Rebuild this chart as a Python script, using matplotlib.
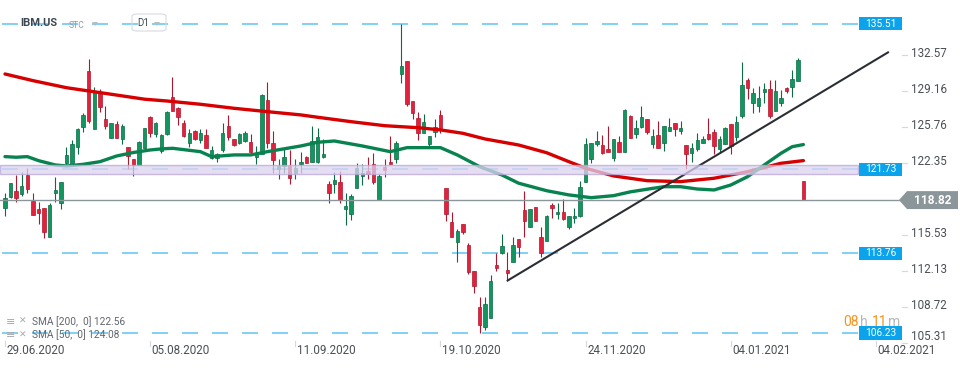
import matplotlib
matplotlib.use("Agg")
import matplotlib.pyplot as plt
import matplotlib.transforms as mtransforms
from matplotlib.patches import Rectangle, Polygon, FancyBboxPatch
import numpy as np

plt.rcParams['font.family'] = ['Roboto', 'DejaVu Sans']
plt.rcParams['lines.scale_dashes'] = False

# ─── Datos: IBM.US diario (velas) ────────────────────────────────────────────
opens = [118.05, 119.15, 119.72, 119.41, 121.21, 118.74, 117.95, 118.05, 115.30, 119.47,
         118.52, 122.37, 122.15, 123.89, 125.79, 131.06, 125.53, 129.10, 126.48, 124.68,
         126.04, 124.59, 123.89, 122.69, 122.15, 123.80, 126.67, 125.06, 123.48, 125.09,
         128.56, 127.58, 126.16, 124.20, 125.37, 124.52, 124.99, 122.85, 122.85, 123.57,
         125.85, 124.58, 124.20, 124.46, 124.36, 122.94, 123.16, 128.31, 124.20, 121.77,
         122.06, 122.06, 121.36, 122.21, 122.88, 122.47, 122.47, 122.94, 120.35, 120.31,
         120.50, 117.95, 117.50, 120.00, 121.14, 121.61, 122.21, 118.83, 121.93, 122.46,
         122.68, 130.74, 132.00, 128.21, 126.57, 125.15, 124.11, 125.31, 126.88, 119.94,
         116.71, 114.88, 116.52, 114.57, 112.13, 108.72, 106.83, 107.69, 112.68, 113.85,
         112.20, 112.93, 115.11, 117.89, 116.25, 118.21, 115.36, 114.98, 118.36, 117.48,
         117.67, 116.31, 117.10, 117.35, 120.51, 122.69, 124.11, 124.05, 123.64, 122.79,
         124.30, 123.35, 126.80, 125.06, 125.79, 126.51, 124.11, 125.00, 124.21, 125.41,
         126.10, 125.41, 124.05, 123.26, 123.67, 124.27, 125.09, 125.31, 123.67, 124.14,
         126.04, 124.84, 126.83, 130.21, 128.06, 127.78, 129.10, 129.35, 127.30, 128.00,
         129.42, 129.58, 130.14, 120.63]
highs = [119.47, 120.48, 121.21, 121.46, 121.84, 119.47, 118.62, 118.05, 118.52, 121.05,
         120.51, 123.89, 124.52, 125.63, 127.11, 132.20, 129.51, 129.32, 127.74, 126.16,
         126.32, 126.04, 123.89, 122.69, 124.46, 125.63, 126.80, 126.26, 125.09, 127.30,
         130.52, 127.68, 126.42, 125.53, 125.47, 125.53, 125.53, 123.95, 123.32, 126.16,
         126.89, 124.58, 125.21, 125.40, 125.09, 123.95, 128.85, 130.05, 125.37, 122.72,
         123.73, 123.57, 122.72, 123.35, 123.00, 125.85, 125.63, 124.60, 120.63, 121.52,
         121.58, 119.46, 119.40, 122.30, 122.21, 122.87, 123.25, 121.26, 122.72, 124.89,
         124.42, 135.51, 132.00, 128.21, 127.14, 126.98, 124.89, 126.51, 127.36, 119.94,
         117.66, 116.05, 116.52, 114.72, 112.13, 109.61, 109.61, 111.73, 113.78, 115.62,
         113.88, 115.36, 115.11, 119.69, 117.95, 118.21, 116.31, 117.42, 118.58, 118.52,
         118.93, 117.35, 118.05, 120.64, 124.68, 124.27, 125.38, 125.00, 125.85, 124.59,
         124.90, 127.46, 126.89, 126.42, 127.74, 126.51, 125.56, 126.32, 125.85, 126.58,
         126.10, 126.32, 124.05, 124.21, 125.15, 124.90, 126.58, 125.53, 124.90, 125.79,
         126.04, 126.80, 131.88, 130.43, 129.48, 129.64, 129.89, 130.21, 130.21, 129.26,
         129.58, 131.16, 132.32, 120.63]
lows = [117.35, 119.06, 118.68, 119.25, 119.53, 117.38, 116.53, 115.27, 115.30, 118.68,
        118.02, 122.15, 122.15, 123.16, 125.25, 126.16, 125.53, 127.21, 125.60, 124.68,
        124.68, 124.11, 121.77, 121.14, 122.15, 123.67, 124.77, 124.84, 123.32, 124.99,
        127.30, 125.94, 124.84, 123.89, 124.52, 124.20, 123.73, 122.72, 122.47, 123.41,
        124.52, 123.95, 124.14, 124.36, 123.26, 122.21, 123.16, 123.73, 121.36, 120.79,
        121.36, 120.32, 120.79, 121.36, 122.31, 122.47, 122.31, 122.85, 118.58, 119.46,
        118.51, 116.46, 116.94, 120.00, 120.25, 120.82, 120.35, 118.83, 121.04, 122.21,
        122.37, 129.89, 127.77, 126.51, 124.52, 125.15, 123.88, 124.77, 125.21, 116.87,
        115.29, 112.99, 115.58, 111.82, 110.05, 106.23, 106.51, 107.69, 112.14, 113.69,
        111.16, 112.93, 113.47, 115.30, 116.25, 116.85, 113.47, 114.98, 117.16, 117.04,
        116.94, 116.06, 116.69, 117.26, 120.51, 122.37, 123.95, 123.16, 123.42, 122.56,
        123.42, 123.35, 124.68, 124.68, 125.63, 125.06, 123.73, 123.80, 123.51, 125.41,
        124.90, 125.06, 121.77, 122.47, 123.51, 124.27, 124.52, 123.19, 123.26, 124.14,
        123.16, 124.46, 126.58, 128.38, 127.05, 127.21, 128.00, 126.58, 127.30, 127.74,
        129.01, 128.63, 130.14, 118.82]
closes = [118.99, 120.42, 119.06, 120.16, 119.85, 117.38, 117.64, 115.77, 118.36, 119.78,
          120.51, 123.10, 124.11, 125.56, 126.86, 126.32, 129.10, 127.62, 125.88, 126.10,
          124.68, 125.85, 123.01, 122.15, 124.30, 125.63, 125.15, 126.10, 125.00, 127.20,
          127.30, 126.73, 124.90, 125.21, 124.61, 125.15, 123.79, 123.57, 123.16, 125.21,
          124.84, 124.05, 125.09, 125.21, 123.35, 123.32, 128.78, 124.27, 122.62, 122.06,
          122.94, 120.89, 121.84, 122.40, 122.37, 124.42, 124.77, 123.19, 119.52, 120.73,
          118.83, 118.26, 119.21, 121.89, 121.42, 121.29, 120.57, 121.10, 121.67, 122.21,
          124.26, 131.53, 127.93, 127.11, 125.15, 126.19, 124.89, 125.78, 125.68, 117.47,
          115.29, 115.92, 115.77, 111.98, 110.68, 106.99, 108.94, 111.16, 112.43, 114.48,
          111.95, 114.57, 114.35, 116.88, 117.95, 116.88, 113.78, 117.32, 118.11, 117.67,
          117.01, 117.35, 117.32, 120.10, 124.14, 124.21, 124.43, 123.26, 123.42, 124.59,
          123.42, 127.37, 124.68, 125.63, 126.68, 125.31, 124.90, 123.80, 125.85, 125.72,
          125.53, 125.63, 123.16, 123.80, 124.52, 124.62, 124.62, 123.99, 124.62, 125.69,
          123.95, 126.26, 129.73, 129.42, 128.94, 128.47, 129.35, 126.83, 129.17, 128.47,
          129.20, 130.30, 132.10, 118.82]

sma200_idx = [0, 5, 11, 15, 19, 25, 29, 35, 41, 47, 53, 56, 62, 68, 74, 78, 82, 86,
              92, 97, 101, 104, 109, 115, 121, 127, 133, 139, 143]
sma200_val = [130.77, 130.14, 129.47, 129.16, 128.85, 128.38, 128.21, 127.90, 127.52,
              127.20, 126.89, 126.67, 126.25, 125.87, 125.68, 125.47, 125.15, 124.61,
              124.04, 123.31, 122.46, 121.84, 121.11, 120.66, 120.57, 120.89, 121.51,
              122.31, 122.56]
sma50_idx = [0, 2, 4, 6, 9, 11, 14, 17, 20, 23, 26, 28, 30, 35, 37, 41, 44, 47, 53, 56,
             59, 64, 69, 72, 78, 81, 85, 89, 92, 97, 101, 105, 109, 112, 115, 118, 121,
             124, 127, 130, 133, 136, 139, 141, 143]
sma50_val = [122.94, 122.88, 122.94, 122.56, 122.15, 122.05, 122.21, 122.46, 123.00,
             123.33, 123.57, 123.67, 123.73, 123.41, 122.94, 123.10, 123.10, 123.41,
             123.95, 124.30, 124.42, 123.95, 123.41, 123.79, 123.79, 123.10, 121.99,
             121.20, 120.42, 119.71, 119.31, 119.05, 119.24, 119.60, 119.85, 120.09,
             120.09, 119.87, 119.78, 120.25, 121.04, 122.15, 123.26, 123.88, 124.08]

# linea de tendencia y niveles
trend_x = [90.0, 158.2]
trend_y = [111.19, 132.83]
levels = [135.51, 121.73, 113.76, 106.23]
zone_lo, zone_hi = 121.30, 122.15
last_price = 118.82
yticks = [132.57, 129.16, 125.76, 122.35, 115.53, 112.13, 108.72, 105.31]
date_idx = [0, 26, 52, 78, 104, 130, 156]
date_lbl = ["29.06.2020", "05.08.2020", "11.09.2020", "19.10.2020",
            "24.11.2020", "04.01.2021", "04.02.2021"]

# ─── Figura ──────────────────────────────────────────────────────────────────
W, H = 970, 368
fig = plt.figure(figsize=(W / 100, H / 100), dpi=100)
fig.patch.set_facecolor("white")
ax = fig.add_axes([0, 0, 905 / W, 1])
ax.set_xlim(-0.896, 161.2)
ax.set_ylim(102.91, 137.78)
ax.axis("off")

bl = mtransforms.blended_transform_factory(fig.transFigure, ax.transData)
bx = mtransforms.blended_transform_factory(ax.transData, fig.transFigure)

GREEN, GREEN_E = "#13955f", "#0b6b43"
RED, RED_E = "#e2223d", "#b0162c"
TXT = "#4a4f55"

# niveles horizontales discontinuos
for v in levels:
    ax.plot([-0.537, 152.8], [v, v], color="#5ec4f5", lw=1.1,
            dashes=(11.5, 10.1), zorder=1)

# velas
o, h, l, c = map(np.array, (opens, highs, lows, closes))
idx = np.arange(len(o))
up = c >= o
fill = np.where(up, GREEN, RED)
edge = np.where(up, GREEN_E, RED_E)
ax.vlines(idx, l, h, colors=edge, lw=0.8, zorder=2)
body_h = np.maximum(np.abs(c - o), 0.2)
body_lo = (o + c) / 2 - body_h / 2
ax.bar(idx, body_h, bottom=body_lo, width=0.62, color=fill, edgecolor=edge,
       linewidth=0.5, zorder=3)

# precio actual
ax.plot([-0.9, (899 - 5) / 5.583], [last_price] * 2, color="#8b969b", lw=1.0, zorder=3.5)

# medias moviles
ax.plot(sma200_idx, sma200_val, color="#d60000", lw=2.4, solid_capstyle="round", zorder=4)
ax.plot(sma50_idx, sma50_val, color="#08834f", lw=2.4, solid_capstyle="round", zorder=4)

# tendencia
ax.plot(trend_x, trend_y, color="#2b2e33", lw=1.5, solid_capstyle="round", zorder=5,
        clip_on=False)

# zona lila
ax.add_patch(Rectangle((-0.9, zone_lo), 153.7, zone_hi - zone_lo, facecolor="#ddd4f0",
                       edgecolor="#b9a6dc", lw=1.0, alpha=0.75, zorder=6))

# etiquetas de niveles
for v in levels:
    ax.add_patch(Rectangle((859 / W, v - 0.62), 43 / W, 1.24, facecolor="#0aa3ec",
                           edgecolor="none", transform=bl, clip_on=False, zorder=10))
    ax.text(880.5 / W, v, f"{v:.2f}", transform=bl, color="white", fontsize=7.3,
            ha="center", va="center", zorder=11, clip_on=False)

# eje derecho
for v in yticks:
    ly = max(v, 105.76)
    ax.plot([902 / W, 907 / W], [v, v], transform=bl, color="#d5d9dd", lw=0.8,
            clip_on=False)
    ax.text(911 / W, ly + 0.12, f"{v:.2f}", transform=bl, color=TXT, fontsize=8.4,
            ha="left", va="center", clip_on=False)

# caja precio actual
ax.add_patch(Polygon([(899 / W, last_price), (907 / W, last_price + 0.85),
                      (958 / W, last_price + 0.85), (958 / W, last_price - 0.85),
                      (907 / W, last_price - 0.85)], closed=True, facecolor="#8b969b",
                     edgecolor="none", transform=bl, clip_on=False, zorder=10))
ax.text(933 / W, last_price, f"{last_price:.2f}", transform=bl, color="white",
        fontsize=8.6, fontweight="bold", ha="center", va="center", zorder=11)

# eje de fechas
for i, s in zip(date_idx, date_lbl):
    ax.plot([i, i], [1 - 341 / H, 1 - 346 / H], transform=bx, color="#d5d9dd", lw=0.8,
            clip_on=False)
    ax.text(i + 0.3, 1 - 351 / H, s, transform=bx, color=TXT, fontsize=8.4,
            ha="left", va="center", clip_on=False)

# cabecera
fig.text(20 / W, 1 - 23.5 / H, "IBM.US", fontsize=8, fontweight="bold", color="#3d4852",
         va="center")
fig.text(69 / W, 1 - 25 / H, "STC", fontsize=6.2, color="#8d99a5", va="center")
for tx in (95, 157):
    fig.patches.append(Polygon([((tx - 3) / W, 1 - 22 / H), ((tx + 3) / W, 1 - 22 / H),
                                (tx / W, 1 - 26 / H)], closed=True, facecolor="#b4bcc4",
                               edgecolor="none", transform=fig.transFigure))
fig.patches.append(FancyBboxPatch((132 / W, 1 - 31 / H), 34 / W, 17 / H,
                                  boxstyle="round,pad=0,rounding_size=0.006",
                                  facecolor="none", edgecolor="#d6dbe0", lw=0.8,
                                  transform=fig.transFigure))
fig.text(137 / W, 1 - 23 / H, "D1", fontsize=7, color="#3d4852", va="center")

# leyenda de indicadores
for yy, lbl in ((321.5, "SMA [200,  0] 122.56"), (335, "SMA [50,  0] 124.08")):
    fig.text(6 / W, 1 - yy / H, "\u2261", fontsize=8, color="#a3abb3", va="center",
             family="DejaVu Sans")
    fig.text(19 / W, 1 - yy / H, "\u2715", fontsize=6.5, color="#a3abb3", va="center",
             family="DejaVu Sans", fontweight="bold")
    fig.text(32 / W, 1 - yy / H, lbl, fontsize=7.3, color="#60666c", va="center")

# cuenta atras
for px, s, col in ((843, "08", "#f7931e"), (860, "h", "#b8b8b8"),
                   (872, "11", "#f7931e"), (888, "m", "#b8b8b8")):
    fig.text(px / W, 1 - 322.5 / H, s, fontsize=10, color=col, va="center")

fig.savefig("out.png", dpi=100, facecolor="white")
